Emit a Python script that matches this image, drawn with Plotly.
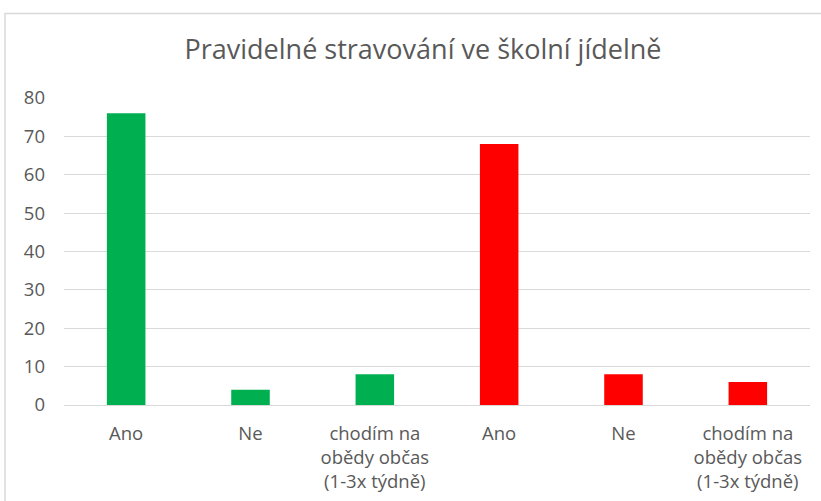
import plotly.graph_objects as go

categories = ["Ano", "Ne", "chodím na<br>obědy občas<br>(1-3x týdně)",
              "Ano", "Ne", "chodím na<br>obědy občas<br>(1-3x týdně)"]
values = [76, 4, 8, 68, 8, 6]
bar_colors = ["#00B050", "#00B050", "#00B050", "#FF0000", "#FF0000", "#FF0000"]
y_ticks = [0, 10, 20, 30, 40, 50, 60, 70, 80]

positions = list(range(len(categories)))
FONT = "Open Sans, Noto Sans, sans-serif"

fig = go.Figure(go.Bar(
    x=positions, y=values, marker=dict(color=bar_colors, line=dict(width=0)),
    width=0.31, hoverinfo="y",
))

W, H = 821, 501
ml, mr, mt, mb = 64, 11, 98, 96
pw, ph = W - ml - mr, H - mt - mb

def px(x):
    return (x - ml) / pw

def py(y):
    return 1 - (y - mt) / ph

fig.update_layout(
    width=W, height=H,
    margin=dict(l=ml, r=mr, t=mt, b=mb, autoexpand=False),
    paper_bgcolor="white", plot_bgcolor="white",
    font=dict(family=FONT, color="#595959", size=18),
    title=dict(text="Pravidelné stravování ve školní jídelně",
               xref="container", yref="container",
               x=423 / W, xanchor="center", y=1 - 50 / H, yanchor="middle",
               font=dict(family=FONT, size=27, color="#595959")),
    showlegend=False,
    xaxis=dict(range=[-0.5, 5.5], tickvals=positions, ticktext=categories,
               showgrid=False, zeroline=False, showline=False, ticks="",
               tickfont=dict(size=18.5), ticklabelstandoff=15),
    yaxis=dict(range=[0, 80], tickvals=y_ticks, showgrid=True,
               gridcolor="#D9D9D9", gridwidth=1.3, zeroline=True,
               zerolinecolor="#D9D9D9", zerolinewidth=1.3, showline=False,
               ticks="", tickfont=dict(size=18.5), ticklabelstandoff=18),
    shapes=[dict(type="path", xref="paper", yref="paper",
                 path=f"M {px(5)} {py(H)} L {px(5)} {py(13.5)} L {px(W)} {py(13.5)}",
                 line=dict(color="#D9D9D9", width=1.5))],
)

fig.write_html("out.html", config={"displayModeBar": False},
               post_script="document.body.style.margin='0px';")
